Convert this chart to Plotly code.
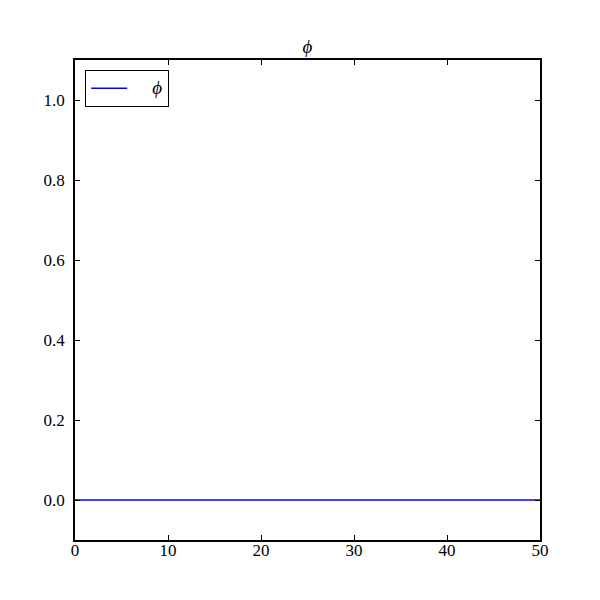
import plotly.graph_objects as go

x_values = [0, 1, 2, 3, 4, 5, 6, 7, 8, 9, 10, 11, 12, 13, 14, 15, 16, 17, 18, 19, 20,
            21, 22, 23, 24, 25, 26, 27, 28, 29, 30, 31, 32, 33, 34, 35, 36, 37, 38, 39, 40,
            41, 42, 43, 44, 45, 46, 47, 48, 49, 50]
phi_values = [0.0] * 51
x_ticks = [0, 10, 20, 30, 40, 50]
y_ticks = [0.0, 0.2, 0.4, 0.6, 0.8, 1.0]
y_tick_labels = ["0.0", "0.2", "0.4", "0.6", "0.8", "1.0"]

font_family = "Liberation Serif"

fig = go.Figure()
fig.add_trace(go.Scatter(x=x_values, y=phi_values, mode="lines",
                         line=dict(color="#0000ff", width=1.5),
                         name="&nbsp;&nbsp;&nbsp;&nbsp;&nbsp;<span style='font-size:19px'><i>ϕ</i></span>"))

axis_common = dict(showgrid=False, zeroline=False, showline=True, linecolor="black",
                   linewidth=1.5, mirror="ticks", ticks="inside", ticklen=5,
                   tickcolor="black", tickwidth=1,
                   tickfont=dict(family=font_family, size=17, color="black"))

fig.update_xaxes(range=[0, 50], tickvals=x_ticks, ticklabelstandoff=-6, **axis_common)
fig.update_yaxes(range=[-0.1, 1.1], tickvals=y_ticks, ticktext=y_tick_labels,
                 ticklabelstandoff=5, **axis_common)

fig.update_layout(
    width=600, height=600,
    margin=dict(l=67, r=68, t=52, b=68),
    plot_bgcolor="white", paper_bgcolor="white",
    title=dict(text="<i>ϕ</i>", x=0.5, xanchor="center", xref="paper",
               y=1 - 38 / 600, yanchor="middle",
               font=dict(family=font_family, size=19, color="black")),
    showlegend=True,
    legend=dict(x=0.0215, y=0.979, xanchor="left", yanchor="top",
                bordercolor="black", borderwidth=1.2, bgcolor="white",
                itemwidth=36,
                font=dict(family=font_family, size=16, color="black")),
)

fig.write_html("out.html")
